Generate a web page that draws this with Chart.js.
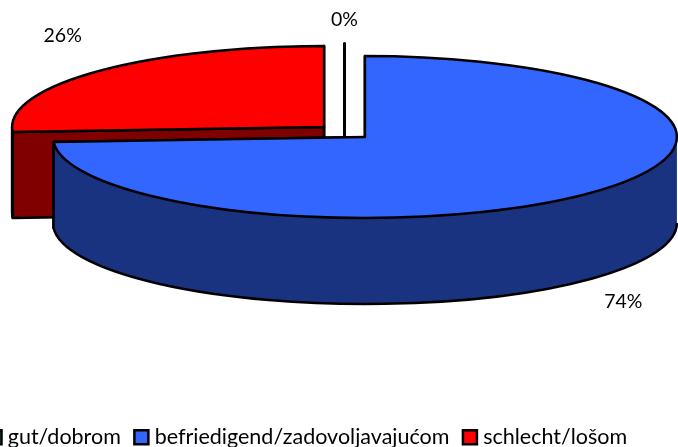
<!DOCTYPE html>
<html><head><meta charset="utf-8">
<style>html,body{margin:0;padding:0;width:678px;height:447px;overflow:hidden;background:#fff}
canvas{position:absolute;left:-26px;top:0}</style>
<script src="https://cdn.jsdelivr.net/npm/chart.js@4"></script>
</head><body><canvas id="c" width="741" height="458"></canvas>
<script>
const categories = ["gut/dobrom", "befriedigend/zadovoljavajućom", "schlecht/lošom"];
const shares = [0, 74, 26];
const colors = ["#00B050", "#3366FF", "#FF0000"];
const wallColors = ["#005828", "#1A3380", "#800000"];

const TILT = 81 / 312, DEPTH = 86, CENTER_Y = 132, FONT = "Lato";
const LABEL_SHIFT = [[0, -24], [31, 109], [-34, -36]];

const pie3d = {
  id: "pie3d",
  beforeDatasetDraw() { return false; },
  afterDatasetsDraw(chart) {
    const ctx = chart.ctx;
    const arcs = chart.getDatasetMeta(0).data;
    const geom = arcs.map(a => {
      const mid = (a.startAngle + a.endAngle) / 2, off = a.options.offset;
      return { a, cx: a.x + Math.cos(mid) * off, cy: CENTER_Y + Math.sin(mid) * off * TILT,
               r: a.outerRadius, s: a.startAngle, e: a.endAngle, mid };
    });
    ctx.save();
    ctx.lineJoin = "round";
    ctx.strokeStyle = "#000";
    const pt = (g, t) => [g.cx + g.r * Math.cos(t), g.cy + g.r * TILT * Math.sin(t)];
    const wallAndTop = (g, i) => {
      const zero = g.e - g.s < 1e-6;
      ctx.lineWidth = zero ? 3 : 2.5;
      ctx.fillStyle = wallColors[i];
      const startP = pt(g, g.s), endP = pt(g, g.e);
      for (const p of [startP, endP]) {
        ctx.beginPath();
        ctx.moveTo(g.cx, g.cy); ctx.lineTo(p[0], p[1]);
        ctx.lineTo(p[0], p[1] + DEPTH); ctx.lineTo(g.cx, g.cy + DEPTH);
        ctx.closePath(); ctx.fill(); ctx.stroke();
      }
      const from = Math.max(g.s, 0), to = Math.min(g.e, Math.PI);
      if (to > from) {
        const a0 = pt(g, from), a1 = pt(g, to);
        ctx.beginPath();
        ctx.moveTo(a0[0], a0[1]);
        ctx.ellipse(g.cx, g.cy, g.r, g.r * TILT, 0, from, to);
        ctx.lineTo(a1[0], a1[1] + DEPTH);
        ctx.ellipse(g.cx, g.cy + DEPTH, g.r, g.r * TILT, 0, to, from, true);
        ctx.closePath(); ctx.fill();
        ctx.beginPath();
        ctx.moveTo(a1[0], a1[1]);
        ctx.lineTo(a1[0], a1[1] + DEPTH);
        ctx.ellipse(g.cx, g.cy + DEPTH, g.r, g.r * TILT, 0, to, from, true);
        ctx.stroke();
      }
      ctx.fillStyle = g.a.options.backgroundColor;
      ctx.beginPath();
      ctx.moveTo(g.cx, g.cy);
      ctx.ellipse(g.cx, g.cy, g.r, g.r * TILT, 0, g.s, g.e);
      ctx.closePath(); ctx.fill(); ctx.stroke();
    };
    [0, 2, 1].forEach(i => wallAndTop(geom[i], i));
    ctx.fillStyle = "#000";
    ctx.font = "19.5px " + FONT;
    ctx.textAlign = "center"; ctx.textBaseline = "middle";
    geom.forEach((g, i) => {
      const p = pt(g, g.mid);
      ctx.fillText(shares[i] + "%", p[0] + LABEL_SHIFT[i][0], p[1] + LABEL_SHIFT[i][1]);
    });
    ctx.restore();
  }
};

new Chart(document.getElementById("c"), {
  type: "pie",
  data: { labels: categories, datasets: [{ data: shares, backgroundColor: colors, borderColor: "#000", borderWidth: 2.5, offset: 28 }] },
  options: {
    responsive: false, animation: false, radius: 312, events: [],
    plugins: {
      tooltip: { enabled: false },
      legend: { position: "bottom", align: "start",
        labels: { usePointStyle: true, pointStyle: "rect", boxWidth: 5, boxHeight: 14, padding: 18,
                  color: "#000", font: { family: FONT, size: 21.5 } } }
    }
  },
  plugins: [pie3d]
});
</script></body></html>
